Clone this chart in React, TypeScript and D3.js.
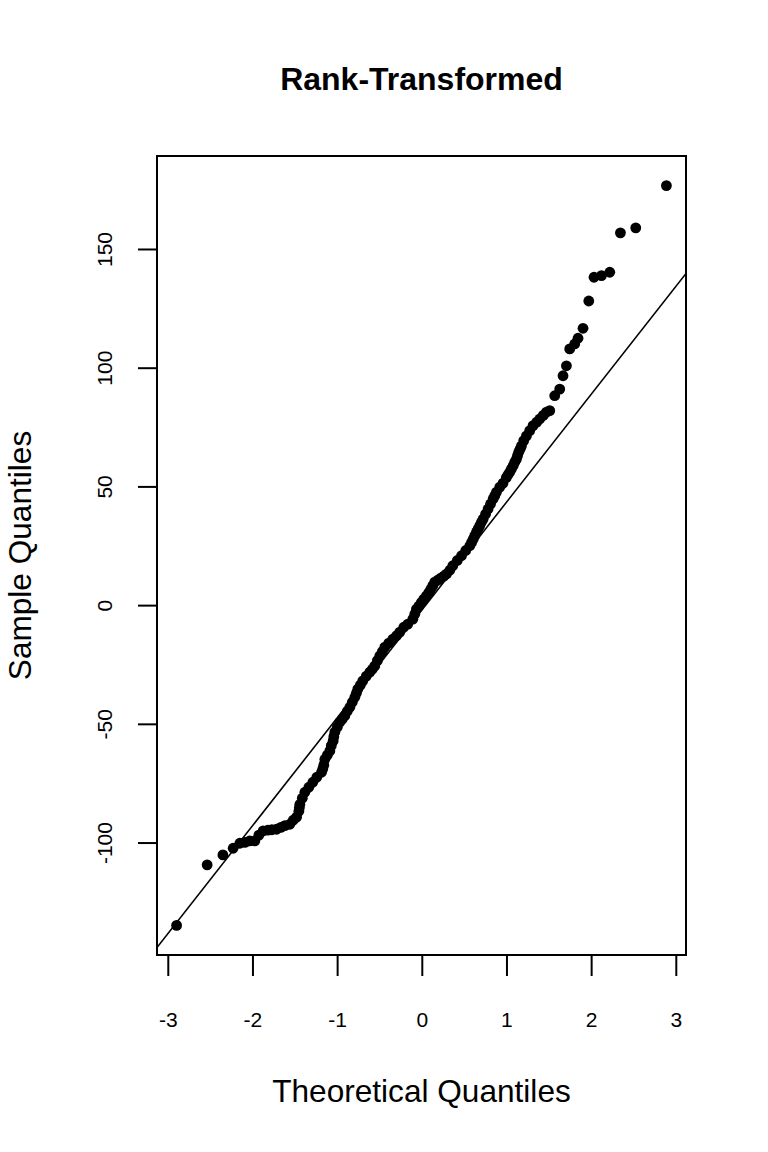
import * as d3 from "d3";
import { useEffect, useRef } from "react";

// theoretical quantiles and sample quantiles
const theoretical = [
  -2.896, -2.535, -2.349, -2.228, -2.149, -2.09, -2.031, -1.972, -1.924, -1.874,
  -1.818, -1.771, -1.715, -1.665, -1.617, -1.558, -1.519, -1.479, -1.452, -1.446,
  -1.44, -1.411, -1.381, -1.334, -1.287, -1.24, -1.184, -1.169, -1.157, -1.145,
  -1.116, -1.086, -1.069, -1.047, -1.039, -1.027, -0.998, -0.968, -0.939, -0.909,
  -0.88, -0.85, -0.821, -0.791, -0.773, -0.756, -0.726, -0.697, -0.655, -0.614,
  -0.584, -0.555, -0.525, -0.496, -0.466, -0.437, -0.39, -0.342, -0.299, -0.26,
  -0.213, -0.165, -0.106, -0.083, -0.063, -0.035, -0.006, 0.024, 0.055, 0.083,
  0.106, 0.13, 0.153, 0.189, 0.224, 0.26, 0.292, 0.331, 0.366, 0.419,
  0.469, 0.519, 0.567, 0.588, 0.608, 0.626, 0.646, 0.665, 0.685, 0.704,
  0.724, 0.753, 0.783, 0.812, 0.842, 0.862, 0.882, 0.921, 0.96, 0.998,
  1.018, 1.039, 1.059, 1.08, 1.098, 1.118, 1.131, 1.145, 1.161, 1.177,
  1.204, 1.236, 1.275, 1.314, 1.358, 1.393, 1.434, 1.472, 1.511, 1.57,
  1.629, 1.668, 1.708, 1.747, 1.806, 1.845, 1.904, 1.972, 2.034, 2.122,
  2.22, 2.346, 2.527, 2.889,
];
const sample = [
  -134.9, -109.4, -105.2, -102.4, -100.3, -99.9, -99.3, -99.3, -96.9, -95.1,
  -94.8, -94.6, -94.4, -93.6, -92.9, -92.3, -90.6, -89.3, -86.8, -85.3,
  -83.9, -81.3, -78.8, -76.7, -74.6, -72.5, -70.4, -68.9, -67.4, -64.9,
  -63.2, -61.4, -59.2, -57.2, -55.4, -53.5, -51.4, -49.3, -48.0, -46.6,
  -44.7, -43.0, -40.9, -38.8, -37.1, -35.4, -33.7, -31.9, -29.9, -28.2,
  -27.0, -25.6, -23.4, -21.4, -19.6, -17.7, -16.0, -14.3, -12.9, -11.4,
  -9.3, -8.0, -5.9, -3.8, -1.7, -0.4, 1.1, 2.5, 3.9, 5.3,
  6.7, 8.2, 9.7, 10.5, 11.4, 12.2, 13.1, 14.7, 16.6, 18.8,
  20.8, 23.0, 25.0, 26.4, 27.8, 29.3, 30.8, 32.1, 33.5, 34.9,
  36.2, 38.3, 40.5, 42.6, 44.7, 46.1, 47.6, 49.7, 51.4, 53.7,
  54.9, 56.0, 57.4, 58.8, 60.2, 61.5, 63.0, 64.5, 65.7, 67.1,
  69.3, 71.3, 73.5, 75.6, 77.1, 78.4, 79.9, 81.3, 81.9, 88.2,
  91.0, 96.6, 100.8, 107.9, 110.0, 112.4, 116.6, 128.1, 138.1, 138.8,
  140.2, 156.8, 158.9, 176.7,
];
// qqline through the quartiles
const lineIntercept = -2.1;
const lineSlope = 45.43;

const xTicks = [-3, -2, -1, 0, 1, 2, 3];
const yTicks = [-100, -50, 0, 50, 100, 150];

const title = "Rank-Transformed";
const xLabel = "Theoretical Quantiles";
const yLabel = "Sample Quantiles";

const W = 768;
const H = 1152;
const left = 157;
const right = 686;
const top = 156;
const bottom = 955;
const font = "'Liberation Sans', Arial, sans-serif";

// R style: extend data range by 4% on each side
const pad = (ext: [number, number]) => {
  const d = (ext[1] - ext[0]) * 0.04;
  return [ext[0] - d, ext[1] + d];
};

export default function App() {
  const xAxisRef = useRef<SVGGElement>(null);
  const yAxisRef = useRef<SVGGElement>(null);

  const x = d3
    .scaleLinear()
    .domain(pad(d3.extent(theoretical) as [number, number]))
    .range([left, right]);
  const y = d3
    .scaleLinear()
    .domain(pad(d3.extent(sample) as [number, number]))
    .range([bottom, top]);

  const pts = theoretical.map((t, i) => ({ t, s: sample[i] }));
  const [x0, x1] = x.domain();
  const qq = d3.line<number>(
    (d) => x(d),
    (d) => y(lineIntercept + lineSlope * d)
  )([x0 - 0.5, x1 + 0.5]);

  useEffect(() => {
    const gx = d3.select(xAxisRef.current!);
    gx.selectAll("*").remove();
    gx.call(
      d3
        .axisBottom(x)
        .tickValues(xTicks)
        .tickSize(21)
        .tickSizeOuter(0)
        .tickPadding(36)
        .tickFormat((d) => String(d))
    );
    gx.select(".domain").remove();
    gx.selectAll("line").attr("stroke", "#000").attr("stroke-width", 2);
    gx.selectAll("text")
      .attr("font-family", font)
      .attr("font-size", 21)
      .attr("fill", "#000");

    const gy = d3.select(yAxisRef.current!);
    gy.selectAll("*").remove();
    gy.call(
      d3
        .axisLeft(y)
        .tickValues(yTicks)
        .tickSize(19)
        .tickSizeOuter(0)
        .tickFormat((d) => String(d))
    );
    gy.select(".domain").remove();
    gy.selectAll("line").attr("stroke", "#000").attr("stroke-width", 2);
    gy.selectAll("text")
      .attr("x", null)
      .attr("dy", null)
      .attr("transform", "translate(-45,0) rotate(-90)")
      .attr("text-anchor", "middle")
      .attr("font-family", font)
      .attr("font-size", 21)
      .attr("fill", "#000");
  }, []);

  return (
    <svg
      width={W}
      height={H}
      style={{ position: "absolute", left: 0, top: 0, background: "#fff" }}
    >
      <defs>
        <clipPath id="plotArea">
          <rect x={left} y={top} width={right - left} height={bottom - top} />
        </clipPath>
      </defs>
      <text
        x={(left + right) / 2}
        y={90}
        textAnchor="middle"
        fontFamily={font}
        fontWeight="bold"
        fontSize={32}
      >
        {title}
      </text>
      <g>
        {pts.map((p, i) => (
          <circle key={i} cx={x(p.t)} cy={y(p.s)} r={5.4} fill="#000" />
        ))}
      </g>
      <path
        d={qq ?? ""}
        fill="none"
        stroke="#000"
        strokeWidth={1.6}
        clipPath="url(#plotArea)"
      />
      <rect
        x={left}
        y={top}
        width={right - left}
        height={bottom - top}
        fill="none"
        stroke="#000"
        strokeWidth={2}
      />
      <g ref={xAxisRef} transform={`translate(0,${bottom})`} />
      <g ref={yAxisRef} transform={`translate(${left},0)`} />
      <text
        x={(left + right) / 2}
        y={1102}
        textAnchor="middle"
        fontFamily={font}
        fontSize={31.6}
      >
        {xLabel}
      </text>
      <text
        transform={`translate(31,${(top + bottom) / 2}) rotate(-90)`}
        textAnchor="middle"
        fontFamily={font}
        fontSize={31.6}
      >
        {yLabel}
      </text>
    </svg>
  );
}
